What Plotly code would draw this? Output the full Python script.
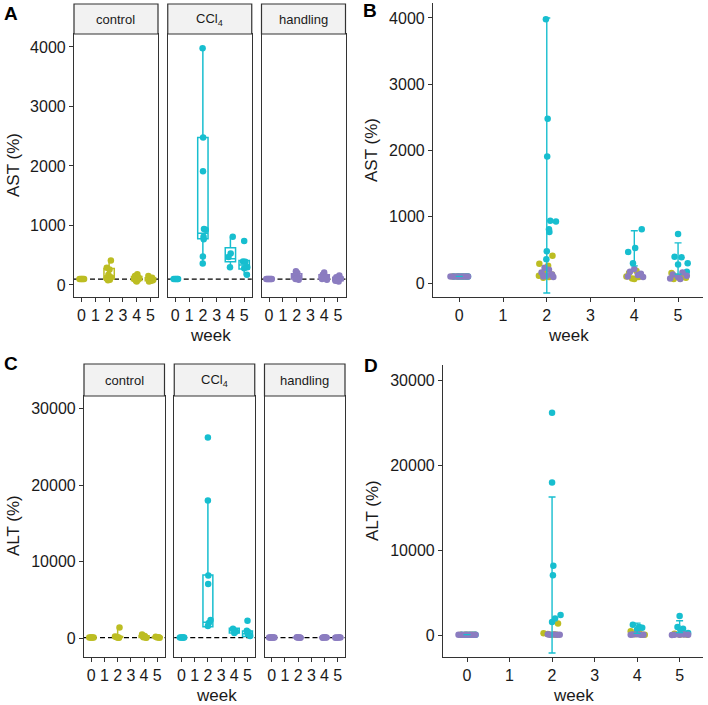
import plotly.graph_objects as go

W, H = 708, 705
OLIVE, CYAN, PURPLE = "#BCBD22", "#17BECF", "#8B7CC0"
INK = "#333333"
TXT = "#1a1a1a"

weeks_ticks = [0, 1, 2, 3, 4, 5]
group_names = ["control", "CCl<sub>4</sub>", "handling"]

# ---------------- AST (%) ----------------
ast_control_week = [0, 0, 0, 0, 0, 2, 2, 2, 2, 2, 2, 2, 2, 4, 4, 4, 4, 4, 4, 4, 5, 5, 5, 5, 5, 5]
ast_control_val = [100, 100, 100, 100, 100, 410, 290, 260, 170, 130, 110, 90, 80,
                   180, 150, 120, 100, 90, 70, 60, 150, 120, 100, 80, 70, 60]
ast_control_jit = [-0.15, -0.05, 0.02, 0.1, 0.18, 0.13, -0.17, 0.03, -0.05, 0.12, -0.18, 0.05, -0.08,
                   0.05, -0.12, 0.15, -0.18, 0.1, -0.05, 0.0, -0.15, 0.12, -0.05, 0.18, 0.05, -0.1]

ast_ccl4_week = [0, 0, 0, 0, 0, 2, 2, 2, 2, 2, 2, 2, 2, 2, 4, 4, 4, 4, 5, 5, 5, 5, 5, 5]
ast_ccl4_val = [100, 100, 100, 100, 100, 3980, 2480, 1910, 940, 930, 810, 770, 480, 360,
                810, 530, 470, 300, 740, 395, 390, 300, 280, 170]
ast_ccl4_jit = [-0.12, -0.02, 0.06, 0.14, 0.2, -0.02, 0.02, 0.01, 0.08, 0.21, 0.05, 0.06, 0.0, -0.01,
                0.17, 0.02, -0.14, -0.03, 0.0, -0.08, 0.08, 0.22, 0.0, 0.2]

ast_handling_week = [0, 0, 0, 0, 0, 0, 0, 2, 2, 2, 2, 2, 2, 2, 4, 4, 4, 4, 4, 4, 5, 5, 5, 5, 5, 5]
ast_handling_val = [100, 100, 100, 100, 100, 100, 100, 230, 200, 160, 130, 110, 100, 90,
                    210, 170, 140, 120, 100, 90, 160, 130, 110, 90, 70, 60]
ast_handling_jit = [-0.2, -0.13, -0.06, 0.0, 0.07, 0.13, 0.2, -0.05, 0.05, -0.12, 0.12, 0.0, -0.08, 0.15,
                    0.0, -0.1, 0.15, 0.08, -0.15, 0.2, 0.1, -0.12, 0.2, 0.0, -0.18, 0.05]

# CCl4 box statistics (panel A) and mean / SD (panel B)
ast_box_week = [0, 2, 4, 5]
ast_box_q1 = [100, 775, 392, 270]
ast_box_med = [100, 870, 442, 335]
ast_box_q3 = [100, 2480, 627, 410]
ast_box_lo = [100, 360, 302, 160]
ast_box_hi = [100, 3980, 812, 410]
ast_ccl4_mean = [100, 1925, 523, 370]
ast_ccl4_sd = [0, 2075, 265, 236]

# ---------------- ALT (%) ----------------
alt_control_week = [0, 0, 0, 0, 0, 2, 2, 2, 2, 2, 2, 4, 4, 4, 4, 4, 5, 5, 5, 5]
alt_control_val = [100, 100, 100, 100, 100, 1400, 250, 180, 120, 100, 80, 500, 300, 150, 100, 80, 200, 150, 100, 80]
alt_control_jit = [-0.15, -0.05, 0.02, 0.1, 0.18, 0.14, -0.2, -0.1, 0.05, -0.02, 0.1,
                   -0.15, 0.05, -0.05, 0.12, 0.18, -0.12, 0.1, 0.0, 0.18]

alt_ccl4_week = [0, 0, 0, 0, 0, 2, 2, 2, 2, 2, 2, 2, 4, 4, 4, 4, 5, 5, 5, 5, 5]
alt_ccl4_val = [100, 100, 100, 100, 100, 26200, 18000, 8200, 7100, 2400, 2000, 1600,
                1250, 1000, 900, 700, 2300, 1000, 800, 600, 300]
alt_ccl4_jit = [-0.12, -0.02, 0.06, 0.14, 0.2, 0.0, 0.0, 0.03, 0.02, 0.2, 0.07, 0.0,
                -0.1, 0.05, 0.12, 0.0, 0.0, -0.05, 0.08, 0.02, 0.2]

alt_handling_week = [0, 0, 0, 0, 0, 0, 0, 2, 2, 2, 2, 2, 4, 4, 4, 4, 4, 5, 5, 5, 5, 5]
alt_handling_val = [100, 100, 100, 100, 100, 100, 100, 150, 120, 100, 90, 80,
                    150, 120, 100, 90, 80, 130, 100, 90, 80, 70]
alt_handling_jit = [-0.2, -0.13, -0.06, 0.0, 0.07, 0.13, 0.2, -0.1, 0.05, 0.12, -0.05, 0.18,
                    0.0, -0.1, 0.15, 0.08, -0.15, 0.1, -0.12, 0.2, 0.0, -0.18]

alt_box_week = [0, 2, 4, 5]
alt_box_q1 = [100, 1500, 700, 250]
alt_box_med = [100, 2100, 1000, 600]
alt_box_q3 = [100, 8260, 1300, 950]
alt_box_lo = [100, 1500, 650, 250]
alt_box_hi = [100, 18000, 1300, 950]
alt_ccl4_mean = [100, 7120, 850, 1040]
alt_ccl4_sd = [0, 9180, 600, 700]

BASELINE = 100


def px_x(p):
    return p / W


def px_y(p):
    return 1 - p / H


fig = go.Figure()

ast_sets = [(ast_control_week, ast_control_val, ast_control_jit, OLIVE),
            (ast_ccl4_week, ast_ccl4_val, ast_ccl4_jit, CYAN),
            (ast_handling_week, ast_handling_val, ast_handling_jit, PURPLE)]
alt_sets = [(alt_control_week, alt_control_val, alt_control_jit, OLIVE),
            (alt_ccl4_week, alt_ccl4_val, alt_ccl4_jit, CYAN),
            (alt_handling_week, alt_handling_val, alt_handling_jit, PURPLE)]


def jittered(wk, jit):
    return [w + j for w, j in zip(wk, jit)]


def facet_panel(sets, box_stats, axis_ids):
    for i, (wk, val, jit, col) in enumerate(sets):
        xa, ya = axis_ids[i]
        if i == 1:
            wk_b, q1, med, q3, lo, hi = box_stats
            fig.add_trace(go.Box(x=wk_b, q1=q1, median=med, q3=q3, lowerfence=lo, upperfence=hi,
                                 width=0.75, whiskerwidth=0, boxpoints=False,
                                 line=dict(color=col, width=1.5), fillcolor="white",
                                 xaxis=xa, yaxis=ya, showlegend=False, hoverinfo="skip"))
        else:
            fig.add_trace(go.Box(x=wk, y=val, width=0.75, whiskerwidth=0, boxpoints=False,
                                 line=dict(color=col, width=1.5), fillcolor="white",
                                 xaxis=xa, yaxis=ya, showlegend=False, hoverinfo="skip"))
        fig.add_trace(go.Scatter(x=jittered(wk, jit), y=val, mode="markers",
                                 marker=dict(color=col, size=6.5, line=dict(width=0)),
                                 xaxis=xa, yaxis=ya, showlegend=False))


def overview_panel(sets, mean, sd, box_week, xa, ya):
    for wk, val, jit, col in sets:
        fig.add_trace(go.Scatter(x=jittered(wk, jit), y=val, mode="markers",
                                 marker=dict(color=col, size=6.5, line=dict(width=0)),
                                 xaxis=xa, yaxis=ya, showlegend=False))
    fig.add_trace(go.Scatter(x=box_week, y=mean, mode="markers",
                             marker=dict(size=1, opacity=0),
                             error_y=dict(type="data", array=sd, visible=True, color=CYAN,
                                          thickness=1.4, width=3.5),
                             xaxis=xa, yaxis=ya, showlegend=False))


facet_panel(ast_sets, (ast_box_week, ast_box_q1, ast_box_med, ast_box_q3, ast_box_lo, ast_box_hi),
            [("x", "y"), ("x2", "y2"), ("x3", "y3")])
overview_panel(ast_sets, ast_ccl4_mean, ast_ccl4_sd, ast_box_week, "x4", "y4")
facet_panel(alt_sets, (alt_box_week, alt_box_q1, alt_box_med, alt_box_q3, alt_box_lo, alt_box_hi),
            [("x5", "y5"), ("x6", "y6"), ("x7", "y7")])
overview_panel(alt_sets, alt_ccl4_mean, alt_ccl4_sd, alt_box_week, "x8", "y8")

FONT = "Liberation Sans, Arial, sans-serif"
tickfont = dict(family=FONT, size=16, color=TXT)

layout = dict(width=W, height=H, margin=dict(l=0, r=0, t=0, b=0, pad=0, autoexpand=False),
              paper_bgcolor="white", plot_bgcolor="white", showlegend=False,
              font=dict(family=FONT, color=TXT))

A_x = [(74, 158), (167.75, 251.75), (261.5, 345.5)]
A_y = (34, 297)
C_x = [(84, 164.5), (174.25, 254.75), (264.5, 345)]
C_y = (396, 657)
FACET_XR = [-0.55, 5.55]
A_YR = [-202, 4218]
C_YR = [-2440, 31630]

common = dict(showgrid=False, zeroline=False, tickfont=tickfont, automargin=False,
              tickformat="d", ticklen=4, tickcolor=INK, tickwidth=1,
              linecolor=INK, linewidth=1.2)


def xdom(a, b):
    return [px_x(a), px_x(b)]


def ydom(top, bottom):
    return [px_y(bottom), px_y(top)]


def facet_axes(start, xs, ys, yr, ytickvals):
    for k, (a, b) in enumerate(xs):
        n = start + k
        xn = "xaxis" if n == 1 else f"xaxis{n}"
        yn = "yaxis" if n == 1 else f"yaxis{n}"
        yid = "y" if n == 1 else f"y{n}"
        xid = "x" if n == 1 else f"x{n}"
        layout[xn] = dict(domain=xdom(a, b), anchor=yid, range=FACET_XR, tickvals=weeks_ticks,
                          showline=True, mirror=True, ticks="outside", **common)
        layout[yn] = dict(domain=ydom(*ys), anchor=xid, range=yr, tickvals=ytickvals,
                          showline=True, mirror=True, ticks="outside" if k == 0 else "",
                          showticklabels=(k == 0), **common)


facet_axes(1, A_x, A_y, A_YR, [0, 1000, 2000, 3000, 4000])
facet_axes(5, C_x, C_y, C_YR, [0, 10000, 20000, 30000])

layout["xaxis4"] = dict(domain=xdom(433, 703), anchor="y4", range=[-0.6, 5.57], tickvals=weeks_ticks,
                        showline=True, ticks="outside", **common)
layout["yaxis4"] = dict(domain=ydom(3, 297), anchor="x4", range=[-211, 4226],
                        tickvals=[0, 1000, 2000, 3000, 4000],
                        showline=True, ticks="outside", **common)
layout["xaxis8"] = dict(domain=xdom(443, 703), anchor="y8", range=[-0.565, 5.55], tickvals=weeks_ticks,
                        showline=True, ticks="outside", **common)
layout["yaxis8"] = dict(domain=ydom(365, 657), anchor="x8", range=[-2530, 31820],
                        tickvals=[0, 10000, 20000, 30000],
                        showline=True, ticks="outside", **common)

shapes = []
annotations = []

# strips
for xs, (st, sb) in [(A_x, (4, 34)), (C_x, (364, 396))]:
    for (a, b), name in zip(xs, group_names):
        shapes.append(dict(type="rect", xref="paper", yref="paper",
                           x0=px_x(a), x1=px_x(b), y0=px_y(sb), y1=px_y(st),
                           fillcolor="#F2F2F2", line=dict(color=INK, width=1.2), layer="above"))
        annotations.append(dict(text=name, xref="paper", yref="paper",
                                x=px_x((a + b) / 2), y=px_y((st + sb) / 2),
                                showarrow=False, xanchor="center", yanchor="middle",
                                font=dict(size=13, color=TXT)))

# dashed baseline at 100 %
for n in [1, 2, 3, 5, 6, 7]:
    xd = "x domain" if n == 1 else f"x{n} domain"
    yr = "y" if n == 1 else f"y{n}"
    shapes.append(dict(type="line", xref=xd, yref=yr, x0=0, x1=1, y0=BASELINE, y1=BASELINE,
                       line=dict(color="black", width=1.3, dash="5px,3px"), layer="below"))


def title(text, x, y, angle=0, size=17):
    annotations.append(dict(text=text, xref="paper", yref="paper", x=px_x(x), y=px_y(y),
                            showarrow=False, xanchor="center", yanchor="middle",
                            textangle=angle, font=dict(size=size, color=TXT)))


title("AST (%)", 13, 165, -90)
title("AST (%)", 372, 150, -90)
title("ALT (%)", 13, 526, -90)
title("ALT (%)", 372, 511, -90)
title("week", 210, 335)
title("week", 568, 335)
title("week", 216, 695)
title("week", 573, 695)

for letter, x, y in [("A", 11, 13), ("B", 370, 10), ("C", 11, 363), ("D", 371, 365)]:
    annotations.append(dict(text=f"<b>{letter}</b>", xref="paper", yref="paper",
                            x=px_x(x), y=px_y(y), showarrow=False,
                            xanchor="center", yanchor="middle",
                            font=dict(size=19, color="black")))

layout["shapes"] = shapes
layout["annotations"] = annotations
fig.update_layout(**layout)

fig.write_html("out.html", config={"displayModeBar": False},
               post_script="document.body.style.margin='0px';document.body.style.padding='0px';")
